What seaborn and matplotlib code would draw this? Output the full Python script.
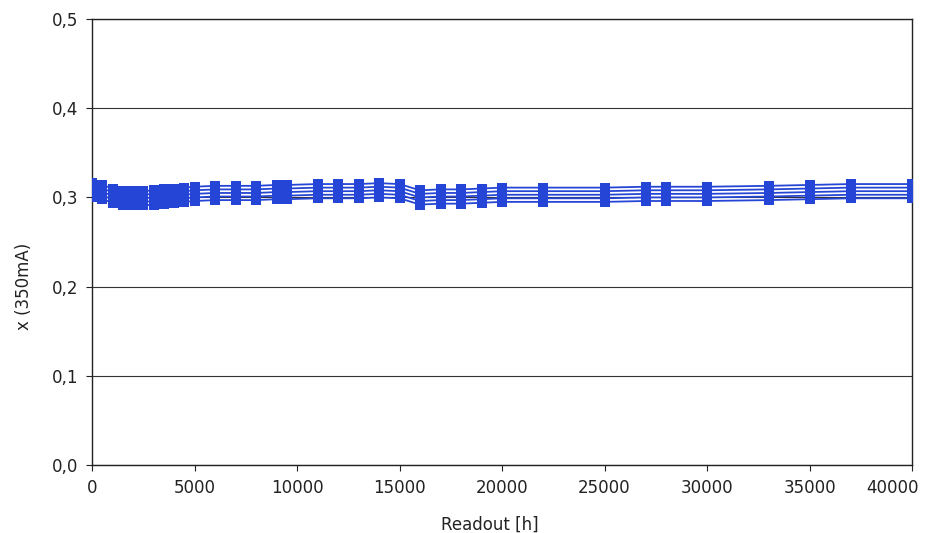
import matplotlib
matplotlib.use("Agg")
import matplotlib.pyplot as plt
import matplotlib.transforms as mtransforms
import seaborn as sns
import pandas as pd
from matplotlib.ticker import FuncFormatter

hours = [0, 500, 1000, 1500, 2000, 2500, 3000, 3500, 4000, 4500, 5000,
         6000, 7000, 8000, 9000, 9500, 11000, 12000, 13000, 14000, 15000,
         16000, 17000, 18000, 19000, 20000, 22000, 25000, 27000, 28000,
         30000, 33000, 35000, 37000, 40000]

s1 = [0.316, 0.314, 0.310, 0.307, 0.307, 0.307, 0.308, 0.309, 0.310, 0.311, 0.312,
      0.313, 0.313, 0.313, 0.314, 0.314, 0.315, 0.315, 0.315, 0.316, 0.315,
      0.308, 0.309, 0.309, 0.310, 0.311, 0.311, 0.311, 0.312, 0.312,
      0.312, 0.313, 0.314, 0.315, 0.315]
s2 = [0.312, 0.310, 0.306, 0.303, 0.303, 0.303, 0.304, 0.305, 0.306, 0.307, 0.308,
      0.309, 0.309, 0.309, 0.310, 0.310, 0.311, 0.311, 0.311, 0.312, 0.311,
      0.304, 0.305, 0.305, 0.306, 0.307, 0.307, 0.307, 0.308, 0.308,
      0.308, 0.309, 0.310, 0.311, 0.311]
s3 = [0.308, 0.306, 0.302, 0.299, 0.299, 0.299, 0.300, 0.301, 0.302, 0.303, 0.304,
      0.305, 0.305, 0.305, 0.306, 0.306, 0.307, 0.307, 0.307, 0.308, 0.307,
      0.300, 0.301, 0.301, 0.302, 0.303, 0.303, 0.303, 0.304, 0.304,
      0.304, 0.305, 0.306, 0.307, 0.307]
s4 = [0.304, 0.302, 0.298, 0.295, 0.295, 0.295, 0.296, 0.297, 0.298, 0.299, 0.300,
      0.301, 0.301, 0.301, 0.302, 0.302, 0.303, 0.303, 0.303, 0.304, 0.303,
      0.296, 0.297, 0.297, 0.298, 0.299, 0.299, 0.299, 0.300, 0.300,
      0.300, 0.301, 0.302, 0.303, 0.303]
s5 = [0.300, 0.298, 0.294, 0.291, 0.291, 0.291, 0.292, 0.293, 0.294, 0.295, 0.296,
      0.297, 0.297, 0.297, 0.298, 0.298, 0.299, 0.299, 0.299, 0.300, 0.299,
      0.292, 0.293, 0.293, 0.294, 0.295, 0.295, 0.295, 0.296, 0.296,
      0.296, 0.297, 0.298, 0.299, 0.299]

series = {"S1": s1, "S2": s2, "S3": s3, "S4": s4, "S5": s5}

x_ticks = [0, 5000, 10000, 15000, 20000, 25000, 30000, 35000, 40000]
y_ticks = [0.0, 0.1, 0.2, 0.3, 0.4, 0.5]

df = pd.concat([pd.DataFrame({"Readout": hours, "x": v, "series": k})
                for k, v in series.items()], ignore_index=True)

sns.set_style("white")
plt.rcParams['font.family'] = ['DejaVu Sans']

fig = plt.figure(figsize=(9.34, 5.33), dpi=100)
ax = fig.add_axes([0.0985, 0.128, 0.878, 0.836])

blue = "#2545d6"
sns.lineplot(data=df, x="Readout", y="x", hue="series",
             palette=[blue] * 5, marker="s", markersize=6.5,
             markeredgewidth=0, linewidth=1.3, legend=False, ax=ax,
             zorder=3)

ax.set_xlim(0, 40000)
ax.set_ylim(0, 0.5)
ax.set_xticks(x_ticks)
ax.set_yticks(y_ticks)
ax.yaxis.set_major_formatter(FuncFormatter(lambda v, p: f"{v:.1f}".replace(".", ",")))
ax.xaxis.set_major_formatter(FuncFormatter(lambda v, p: f"{int(v)}"))

ax.grid(axis="y", color="#333333", linewidth=0.8)
ax.grid(axis="x", visible=False)
for s in ax.spines.values():
    s.set_color("#222222")
    s.set_linewidth(1.0)

ax.tick_params(axis="both", which="major", labelsize=12, length=4,
               color="#222222", direction="out", bottom=True, left=True,
               labelcolor="#222222", pad=6)

# shift the last x tick label left so it stays inside the figure
fig.canvas.draw()
last = ax.get_xticklabels()[-1]
last.set_transform(last.get_transform() +
                   mtransforms.ScaledTranslation(-0.2, 0, fig.dpi_scale_trans))

ax.set_xlabel("Readout [h]", fontsize=12, color="#222222")
ax.set_ylabel("x (350mA)", fontsize=12, color="#222222")
ax.xaxis.set_label_coords(0.485, -0.115)
ax.yaxis.set_label_coords(-0.072, 0.4)

fig.savefig("out.png", dpi=100)
